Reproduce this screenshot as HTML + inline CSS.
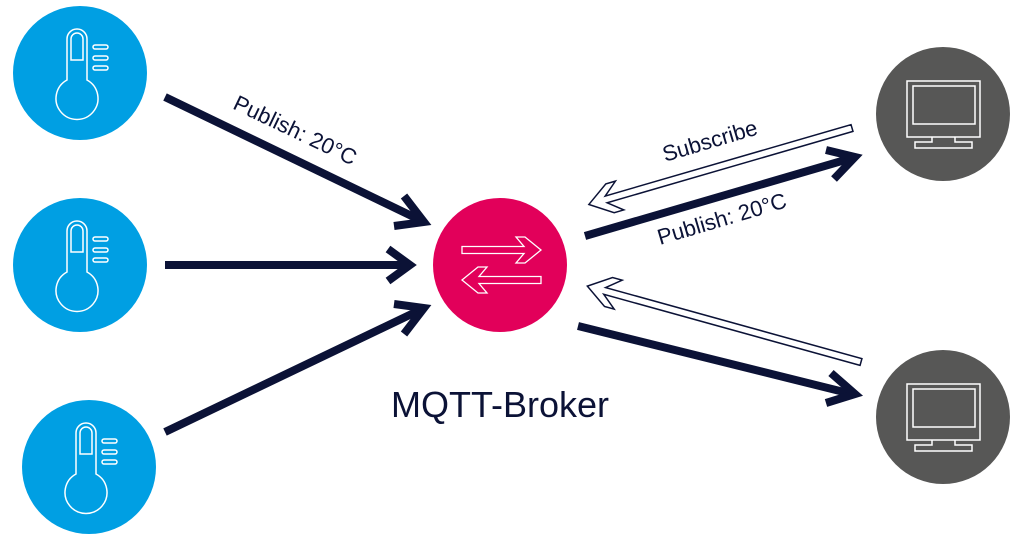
<!DOCTYPE html>
<html><head><meta charset="utf-8"><style>
html,body{margin:0;padding:0;background:#fff;width:1024px;height:538px;overflow:hidden}
text{font-family:"Liberation Sans",sans-serif;fill:#0b1236}
</style></head><body>
<svg width="1024" height="538" viewBox="0 0 1024 538" xmlns="http://www.w3.org/2000/svg">
<defs>
<g id="therm" fill="none" stroke="#fff" stroke-width="1.5">
  <path d="M-12,7 V-34 A10,10 0 0 1 8,-34 V7 A21,21 0 1 1 -12,7 Z"/>
  <path d="M-8,-13 V-34 A6,6 0 0 1 4,-34 V-13 Z"/>
  <rect x="14" y="-28" width="15" height="4" rx="2"/>
  <rect x="14" y="-17" width="15" height="4" rx="2"/>
  <rect x="14" y="-7" width="15" height="4" rx="2"/>
</g>
<g id="mon" fill="none" stroke="#fff" stroke-width="1.5">
  <rect x="-36" y="-33" width="73" height="56"/>
  <rect x="-30" y="-28" width="62" height="38"/>
  <path d="M-11,23 V28 H-28 V34 H29 V28 H12 V23"/>
</g>
</defs>
<circle cx="80" cy="73" r="67" fill="#009fe3"/>
<circle cx="80" cy="265" r="67" fill="#009fe3"/>
<circle cx="89" cy="467" r="67" fill="#009fe3"/>
<use href="#therm" transform="translate(79,73)"/>
<use href="#therm" transform="translate(79,265)"/>
<use href="#therm" transform="translate(88,467)"/>
<circle cx="500" cy="265" r="67" fill="#e2005a"/>
<g fill="none" stroke="#fff" stroke-width="1.3">
  <path d="M462,246.5 H524 L516,237 H525 L541,250 L525,263 H516 L524,253.5 H462 Z"/>
  <path d="M541,276.5 H479 L487,267 H478 L462,280 L478,293 H487 L479,283.5 H541 Z"/>
</g>
<circle cx="943" cy="114" r="67" fill="#575756"/>
<circle cx="943" cy="417" r="67" fill="#575756"/>
<use href="#mon" transform="translate(943,114)"/>
<use href="#mon" transform="translate(943,417)"/>
<g stroke="#0b1236" stroke-width="8" fill="none" stroke-linejoin="miter">
  <line x1="165" y1="97" x2="420" y2="220"/>
  <polyline points="404,196 424,222 394,226"/>
  <line x1="165" y1="265" x2="408" y2="265"/>
  <polyline points="388,249 410,265 388,281"/>
  <line x1="165" y1="432" x2="420" y2="310"/>
  <polyline points="394,304 424,308 404,334"/>
  <line x1="585" y1="236" x2="852" y2="158"/>
  <polyline points="826,150 855,157 834,179"/>
  <line x1="578" y1="326" x2="852" y2="394"/>
  <polyline points="831,373 855,394 826,403"/>
</g>
<g fill="#fff" stroke="#0b1236" stroke-width="1.5">
  <polygon points="0,-3.5 256,-3.5 242,-15 252,-15 274,0 252,15 242,15 256,3.5 0,3.5" transform="translate(852,128) rotate(163.8)"/>
  <polygon points="0,-3.5 266,-3.5 252,-15 262,-15 284,0 262,15 252,15 266,3.5 0,3.5" transform="translate(861,362) rotate(195.5)"/>
</g>
<text transform="translate(292,137) rotate(25.5)" text-anchor="middle" font-size="22">Publish: 20°C</text>
<text transform="translate(712,148) rotate(-16.5)" text-anchor="middle" font-size="22">Subscribe</text>
<text transform="translate(724,226) rotate(-16.5)" text-anchor="middle" font-size="22">Publish: 20°C</text>
<text x="500" y="417" text-anchor="middle" font-size="36">MQTT-Broker</text>
</svg>
</body></html>
